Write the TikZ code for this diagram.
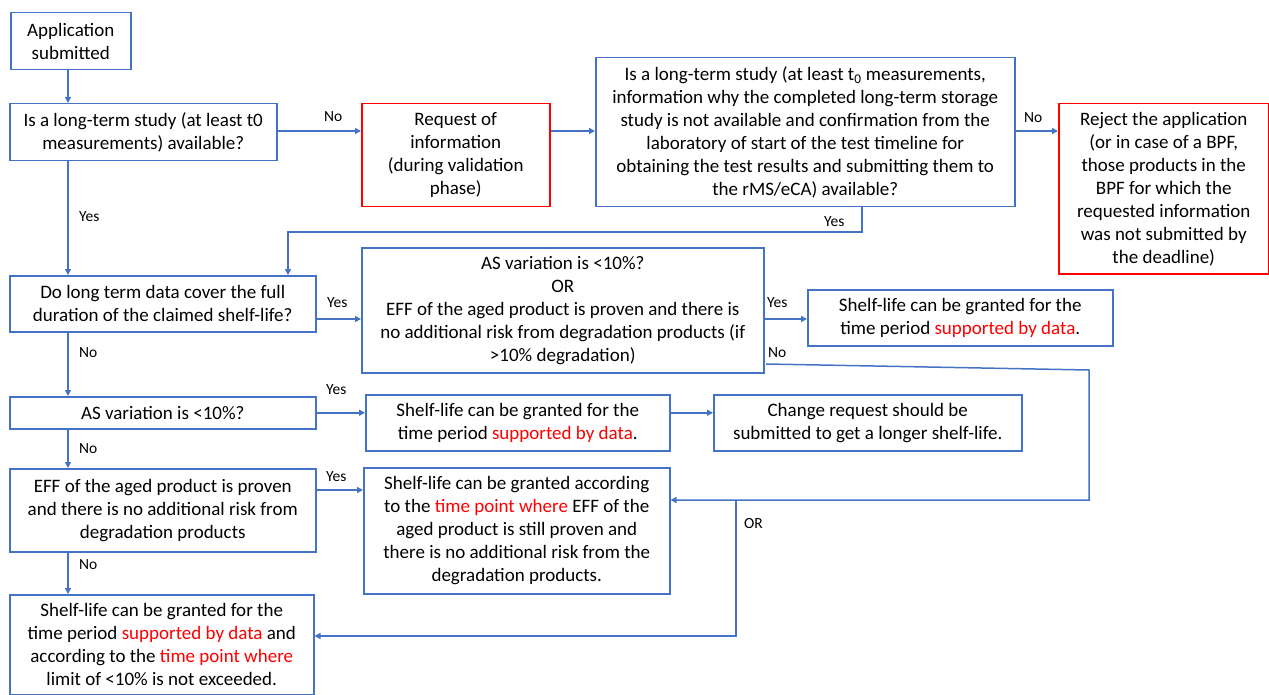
\documentclass[tikz,border=0pt]{standalone}
\usepackage{fontspec}
\setmainfont{Carlito}
\usetikzlibrary{arrows.meta}
\definecolor{myblue}{RGB}{68,114,196}
\definecolor{myred}{RGB}{255,0,0}
\newcommand\boxfont{\fontsize{19}{23}\selectfont}
\newcommand\lblfont{\fontsize{15.5}{18}\selectfont}
\newcommand\rd[1]{\textcolor{myred}{#1}}
\tikzset{
  box/.style={draw=myblue, line width=1.5pt, align=center, inner sep=0pt, anchor=north west, font=\boxfont, fill=white},
  redbox/.style={box, draw=myred},
  lbl/.style={font=\lblfont, inner sep=0pt, anchor=west},
  conn/.style={draw=myblue, line width=1.5pt},
  arr/.style={conn, -{Triangle[length=6pt,width=6pt]}}
}
\begin{document}
\begin{tikzpicture}[x=1pt,y=-1pt]
\useasboundingbox (0,0) rectangle (1269,695);
% nodes
\node[box, minimum width=120pt, minimum height=57pt] (A) at (10,12) {Application\\submitted};
\node[box, minimum width=267pt, minimum height=57pt] (Q1) at (9,103) {Is a long-term study (at least t0\\measurements) available?};
\node[redbox, minimum width=188pt, minimum height=103pt] (Req) at (361,103) {Request of\\information\\(during validation\\phase)};
\node[box, minimum width=419pt, minimum height=149pt] (Q2) at (595,57) {Is a long-term study (at least t\textsubscript{0} measurements,\\information why the completed long-term storage\\study is not available and confirmation from the\\laboratory of start of the test timeline for\\obtaining the test results and submitting them to\\the rMS/eCA) available?};
\node[redbox, minimum width=210pt, minimum height=170pt] (Rej) at (1058,103) {Reject the application\\(or in case of a BPF,\\those products in the\\BPF for which the\\requested information\\was not submitted by\\the deadline)};
\node[box, minimum width=306pt, minimum height=56pt] (Q3) at (9,275) {Do long term data cover the full\\duration of the claimed shelf-life?};
\node[box, minimum width=402pt, minimum height=125pt] (OR) at (361,247) {AS variation is <10\%?\\OR\\EFF of the aged product is proven and there is\\no additional risk from degradation products (if\\>10\% degradation)};
\node[box, minimum width=305pt, minimum height=56pt] (S1) at (807,289) {Shelf-life can be granted for the\\time period \rd{supported by data}.};
\node[box, minimum width=306pt, minimum height=32pt] (Q4) at (9,396) {AS variation is <10\%?};
\node[box, minimum width=304pt, minimum height=56pt] (S2) at (365,394) {Shelf-life can be granted for the\\time period \rd{supported by data}.};
\node[box, minimum width=308pt, minimum height=56pt] (Ch) at (713,394) {Change request should be\\submitted to get a longer shelf-life.};
\node[box, minimum width=306pt, minimum height=83pt] (Q5) at (9,468) {EFF of the aged product is proven\\and there is no additional risk from\\degradation products};
\node[box, minimum width=306pt, minimum height=126pt] (EF) at (363,467) {Shelf-life can be granted according\\to the \rd{time point where} EFF of the\\aged product is still proven and\\there is no additional risk from the\\degradation products.};
\node[box, minimum width=304pt, minimum height=100pt] (Fin) at (9,594) {Shelf-life can be granted for the\\time period \rd{supported by data} and\\according to the \rd{time point where}\\limit of <10\% is not exceeded.};
% helper coordinates
\coordinate (xl) at (68,0);
\coordinate (r1) at (0,131);
\coordinate (y2a) at (862,232);
\coordinate (y2b) at (288,232);
\coordinate (r3) at (0,319);
\coordinate (n0) at (766,364);
\coordinate (n1) at (1089,370);
\coordinate (n2) at (1089,500);
\coordinate (r5) at (317,490);
\coordinate (o1) at (736,500);
\coordinate (o2) at (736,636);
% connectors
\draw[arr] (A.south -| xl) -- (Q1.north -| xl);
\draw[arr] (Q1.east |- r1) -- (Req.west |- r1);
\draw[arr] (Req.east |- r1) -- (Q2.west |- r1);
\draw[arr] (Q2.east |- r1) -- (Rej.west |- r1);
\draw[arr] (Q2.south -| y2a) -- (y2a) -- (y2b) -- (y2b |- Q3.north);
\draw[arr] (Q1.south -| xl) -- (Q3.north -| xl);
\draw[arr] (Q3.east |- r3) -- (OR.west |- r3);
\draw[arr] (OR.east |- r3) -- (S1.west |- r3);
\draw[arr] (n0) -- (n1) -- (n2) -- (n2 -| EF.east);
\draw[arr] (Q3.south -| xl) -- (Q4.north -| xl);
\draw[arr] (Q4.east) -- (Q4.east -| S2.west);
\draw[arr] (S2.east |- Q4.east) -- (Ch.west |- Q4.east);
\draw[arr] (Q4.south -| xl) -- (Q5.north -| xl);
\draw[arr] (r5) -- (r5 -| EF.west);
\draw[arr] (Q5.south -| xl) -- (Fin.north -| xl);
\draw[arr] (o1) -- (o2) -- (o2 -| Fin.east);
% labels
\node[lbl] (l1) at (324,117) {No};
\node[lbl] (l2) at (1024,118) {No};
\node[lbl] (l3) at (79,217) {Yes};
\node[lbl] (l4) at (824,222) {Yes};
\node[lbl] (l5) at (327,303) {Yes};
\node[lbl] (l6) at (767,303) {Yes};
\node[lbl] (l7) at (768,353) {No};
\node[lbl] (l8) at (79,353) {No};
\node[lbl] (l9) at (326,390) {Yes};
\node[lbl] (l10) at (79,449) {No};
\node[lbl] (l11) at (326,477) {Yes};
\node[lbl] (l12) at (79,565) {No};
\node[lbl] (l13) at (744,524) {OR};
\end{tikzpicture}
\end{document}
